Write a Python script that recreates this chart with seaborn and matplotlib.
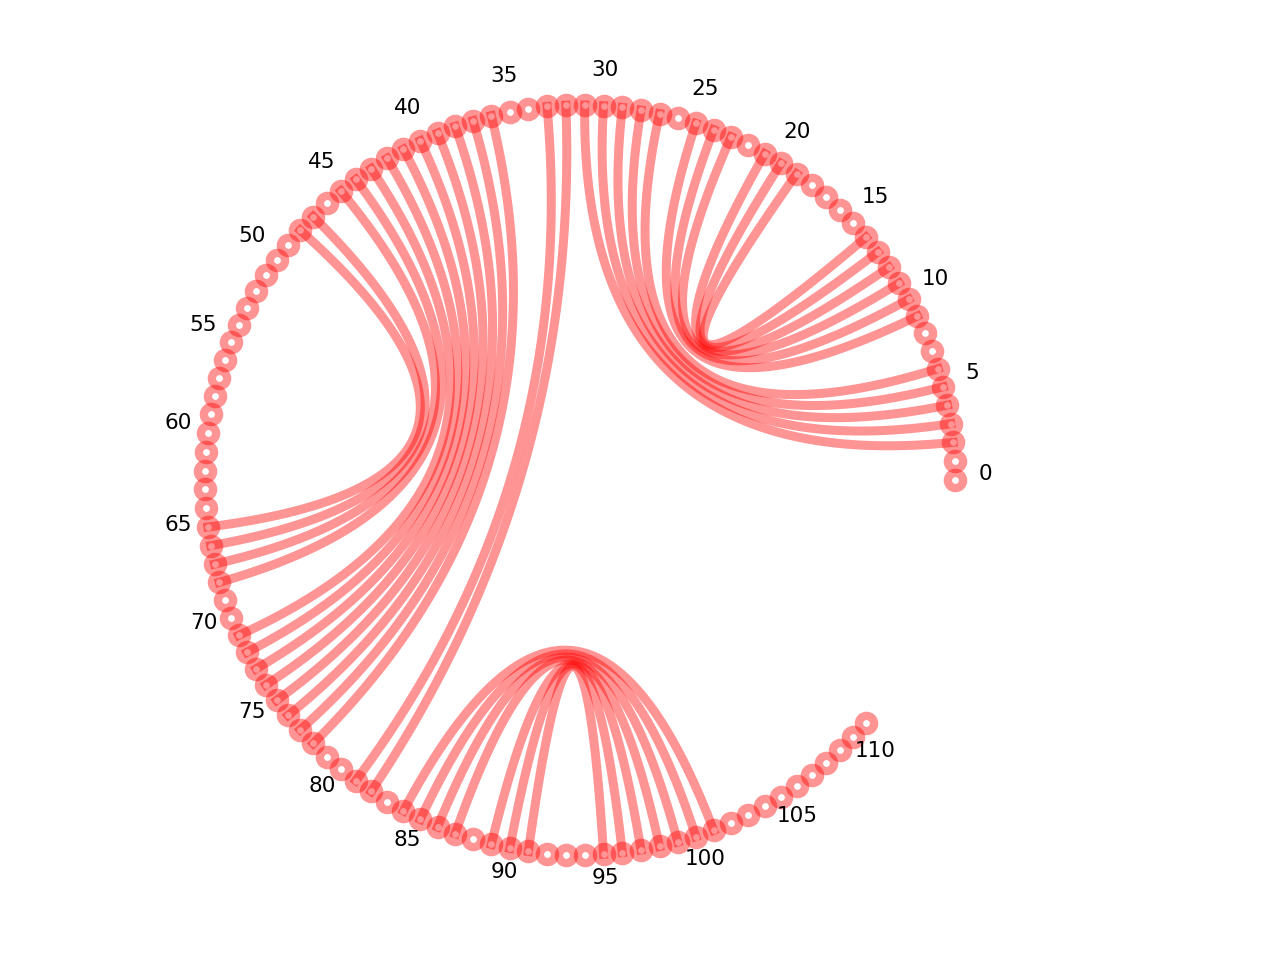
import numpy as np
import pandas as pd
import matplotlib
matplotlib.use("Agg")
import matplotlib.pyplot as plt
import seaborn as sns

# --- data: 112 nucleotides and their base pairs ---
N_BASES = 112
N_SLOTS = 125          # angular slots around the circle (leaves a gap at the end)
LABEL_STEP = 5

pairs_left = [2, 3, 4, 5, 6,
              9, 10, 11, 12, 13, 14,
              32, 33,
              36, 37, 38, 39, 40, 41, 42, 43,
              44, 45, 47, 48,
              84, 85, 86, 87, 89, 90, 91]
pairs_right = [31, 30, 29, 28, 27,
               25, 24, 23, 21, 20, 19,
               82, 81,
               78, 77, 76, 75, 74, 73, 72, 71,
               68, 67, 66, 65,
               101, 100, 99, 98, 97, 96, 95]

COLOR = "red"
ALPHA = 0.42

sns.set_style("white")
plt.rcParams['font.family'] = ['DejaVu Sans']

# positions on the unit circle
idx = np.arange(N_BASES)
ang = 2 * np.pi * idx / N_SLOTS
px = np.cos(ang)
py = np.sin(ang)

# quadratic bezier through the centre for every pair
t = np.linspace(0, 1, 120)
rows = []
for k, (a, b) in enumerate(zip(pairs_left, pairs_right)):
    bx = (1 - t) ** 2 * px[a] + t ** 2 * px[b]
    by = (1 - t) ** 2 * py[a] + t ** 2 * py[b]
    rows.append(pd.DataFrame({"x": bx, "y": by, "pair": k, "t": t}))
arcs = pd.concat(rows, ignore_index=True)

fig = plt.figure(figsize=(12.8, 9.6), dpi=100)
ax = fig.add_axes([0, 0, 1, 1])

sns.lineplot(data=arcs, x="x", y="y", units="pair", estimator=None, sort=False,
             color=COLOR, alpha=ALPHA, linewidth=6.5, solid_capstyle="projecting",
             legend=False, ax=ax)

ax.plot(px, py, linestyle="none", marker="o", markersize=11.0,
        markerfacecolor="none", markeredgecolor=COLOR, markeredgewidth=6.0,
        alpha=ALPHA)

for i in range(0, N_BASES, LABEL_STEP):
    ax.text(1.08 * np.cos(ang[i]), 1.08 * np.sin(ang[i]), str(i),
            ha="center", va="baseline", fontsize=15.5, color="black")

# centre of circle at pixel (580, 480), radius 375 px
R = 375.0
ax.set_xlim(-580 / R, (1280 - 580) / R)
ax.set_ylim(-480 / R, 480 / R)
ax.set_axis_off()

fig.savefig("out.png", dpi=100, facecolor="white")
